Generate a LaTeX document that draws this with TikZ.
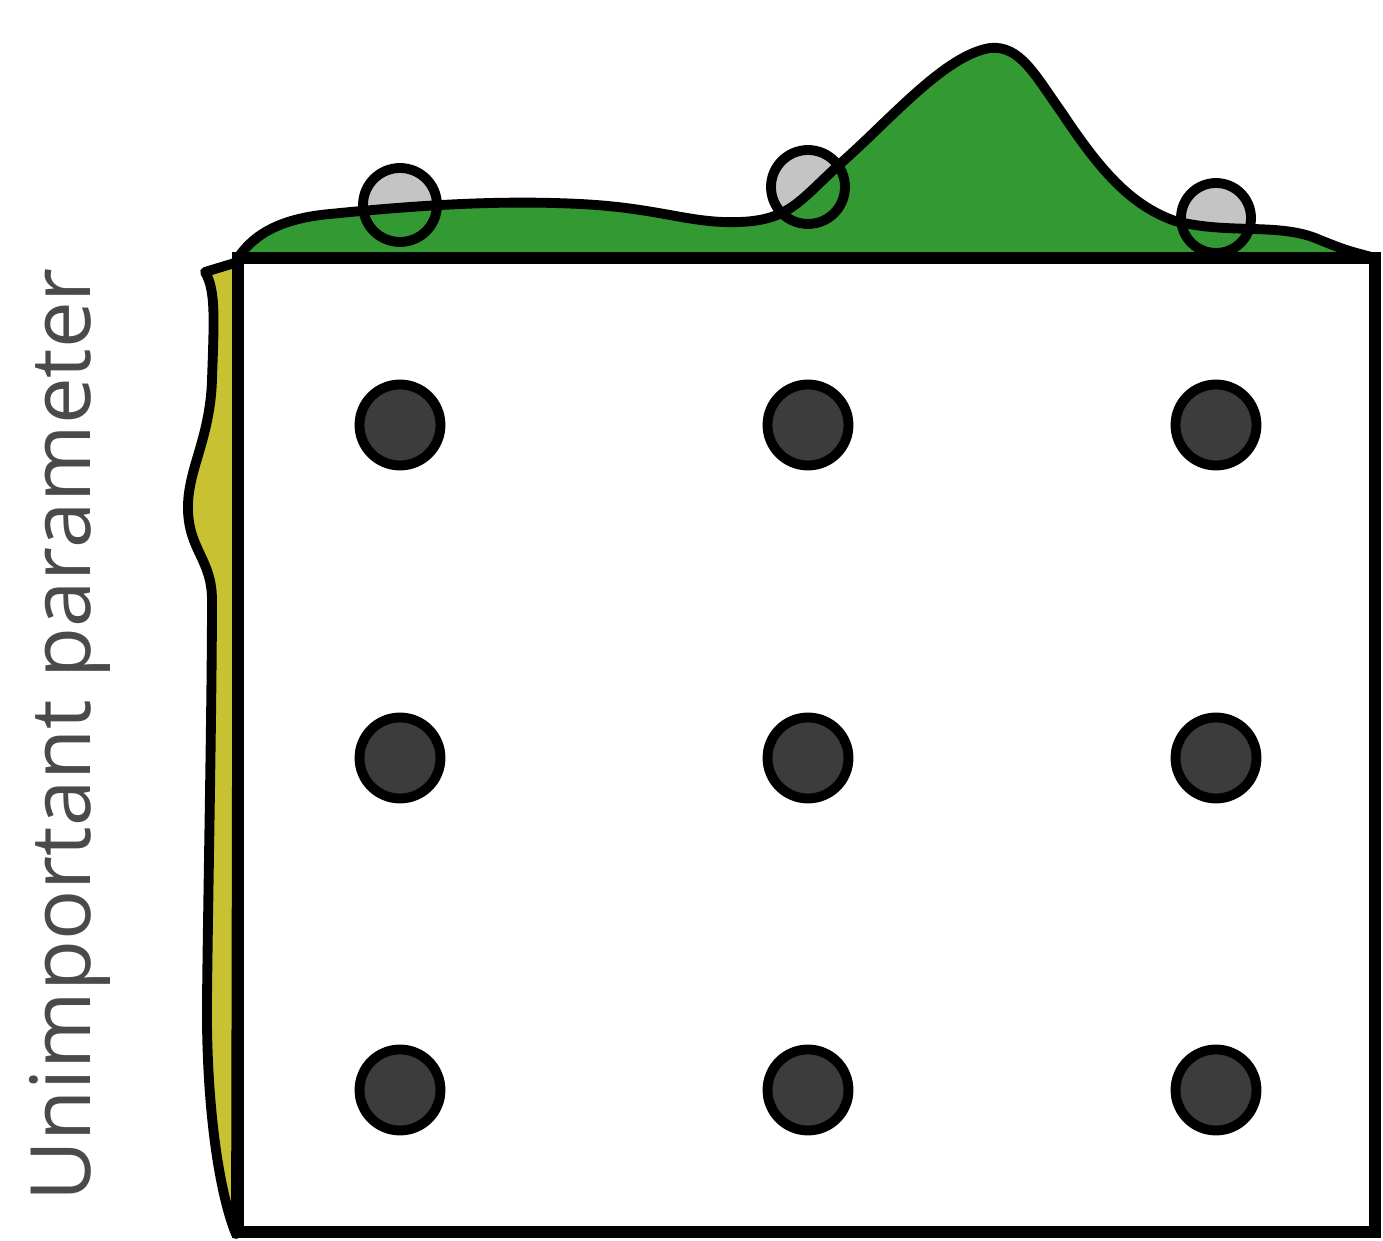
\documentclass[tikz,border=0pt]{standalone}
\usepackage{fontspec}
\setmainfont{Open Sans}
\usetikzlibrary{positioning}
\definecolor{kdegreen}{HTML}{339933}
\definecolor{kdeyellow}{HTML}{C8C232}
\definecolor{dotgray}{HTML}{3C3C3C}
\definecolor{samplegray}{HTML}{C4C4C4}
\definecolor{labgray}{HTML}{4A4A4A}
\tikzset{
  heavy/.style={line width=2.8pt,draw=black},
  griddot/.style={circle,heavy,fill=dotgray,minimum size=8.1mm,inner sep=0pt},
  samplefill/.style={circle,fill=samplegray,minimum size=7.4mm,inner sep=0pt},
  sampleedge/.style={circle,heavy,minimum size=7.4mm,inner sep=0pt},
  kde/.style={heavy,line join=round},
}
\begin{document}
\begin{tikzpicture}[x=0.1mm,y=-0.1mm]
\useasboundingbox (0,0) rectangle (1383,1241);
% samples on the important axis
\node[samplefill] (s1) at (400,205) {};
\node[samplefill] (s2) at (808,187) {};
\node[samplefill,minimum size=7mm] (s3) at (1216,218) {};
% density of the important parameter
\fill[kdegreen] (238,258) .. controls (255,232) and (285,218) .. (330,214)
  .. controls (420,205) and (500,200) .. (580,204)
  .. controls (660,208) and (690,224) .. (740,222)
  .. controls (790,220) and (800,200) .. (841,163)
  .. controls (890,120) and (945,55) .. (990,48)
  .. controls (1020,45) and (1035,75) .. (1062,113)
  .. controls (1100,170) and (1130,205) .. (1175,221)
  .. controls (1230,235) and (1280,222) .. (1320,240)
  .. controls (1345,250) .. (1375,258) -- cycle;
\draw[kde] (238,258) .. controls (255,232) and (285,218) .. (330,214)
  .. controls (420,205) and (500,200) .. (580,204)
  .. controls (660,208) and (690,224) .. (740,222)
  .. controls (790,220) and (800,200) .. (841,163)
  .. controls (890,120) and (945,55) .. (990,48)
  .. controls (1020,45) and (1035,75) .. (1062,113)
  .. controls (1100,170) and (1130,205) .. (1175,221)
  .. controls (1230,235) and (1280,222) .. (1320,240)
  .. controls (1345,250) .. (1375,258);
\node[sampleedge] at (s1) {};
\node[sampleedge] at (s2) {};
\node[sampleedge,minimum size=7mm] at (s3) {};
% density of the unimportant parameter
\filldraw[kde,fill=kdeyellow] (238,262) -- (205,272)
  .. controls (216,290) and (214,320) .. (212,380)
  .. controls (210,440) and (187,470) .. (188,510)
  .. controls (189,550) and (212,560) .. (212,600)
  .. controls (212,700) and (208,900) .. (207,1000)
  .. controls (206,1100) and (218,1190) .. (236,1234) -- cycle;
% search space
\draw[line width=3.2pt] (238,258) rectangle (1375,1232);
% grid of trials
\foreach \c/\x in {1/400,2/808,3/1216}
  \foreach \r/\y in {1/425,2/758,3/1090}
    \node[griddot] (d\r\c) at (\x,\y) {};
\node[rotate=90,text=labgray,font=\fontsize{23.7}{28}\selectfont] (lab) at (70,735) {Unimportant parameter};
\end{tikzpicture}
\end{document}
